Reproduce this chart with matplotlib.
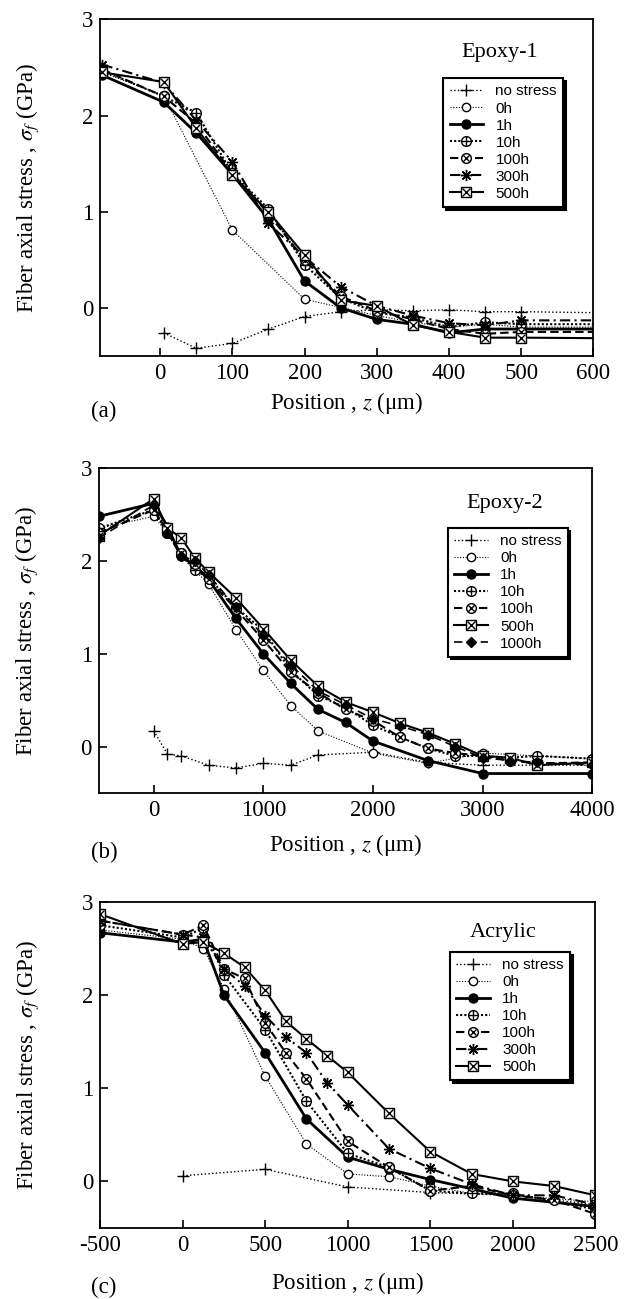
import matplotlib.pyplot as plt
from matplotlib.legend_handler import HandlerTuple

plt.rcParams['font.family'] = ['Liberation Serif', 'DejaVu Serif']
plt.rcParams['mathtext.fontset'] = 'stix'
plt.rcParams['axes.unicode_minus'] = False

# ---- (a) Epoxy-1 ----
a_ns_z = [5, 50, 100, 150, 200, 250, 300, 350, 400, 450, 500, 700]
a_ns = [-0.26, -0.42, -0.37, -0.22, -0.09, -0.04, -0.02, -0.03, -0.02, -0.04, -0.04, -0.06]
a_0h_z = [-80, 5, 100, 200, 300, 350, 400, 450, 500, 700]
a_0h = [2.45, 2.21, 0.81, 0.09, -0.08, -0.15, -0.2, -0.17, -0.2, -0.2]
a_z = [-80, 5, 50, 100, 150, 200, 250, 300, 350, 400, 450, 500, 700]
a_1h = [2.42, 2.14, 1.82, 1.39, 0.92, 0.28, 0.0, -0.12, -0.17, -0.26, -0.22, -0.22, -0.22]
a_10h = [2.47, 2.2, 2.03, 1.4, 1.03, 0.45, 0.1, -0.05, -0.1, -0.2, -0.15, -0.17, -0.17]
a_100h = [2.48, 2.2, 1.92, 1.4, 0.98, 0.5, 0.12, -0.03, -0.12, -0.22, -0.27, -0.25, -0.25]
a_300h = [2.53, 2.34, 1.95, 1.52, 0.88, 0.53, 0.22, 0.02, -0.08, -0.16, -0.18, -0.13, -0.13]
a_500h = [2.45, 2.35, 1.87, 1.38, 1.0, 0.55, 0.08, 0.02, -0.18, -0.25, -0.31, -0.31, -0.32]

# ---- (b) Epoxy-2 ----
b_ns_z = [0, 125, 250, 500, 750, 1000, 1250, 1500, 2000, 2500, 3000, 4000]
b_ns = [0.17, -0.08, -0.1, -0.2, -0.23, -0.18, -0.2, -0.09, -0.06, -0.17, -0.2, -0.2]
b_0h_z = [-500, 0, 125, 250, 375, 500, 750, 1000, 1250, 1500, 2000, 2500, 3000, 3500, 4000]
b_0h = [2.35, 2.48, 2.3, 2.05, 1.9, 1.75, 1.26, 0.82, 0.44, 0.17, -0.07, -0.18, -0.07, -0.1, -0.13]
b_1h_z = [-500, 0, 125, 250, 375, 500, 750, 1000, 1250, 1500, 1750, 2000, 2500, 3000, 4000]
b_1h = [2.48, 2.62, 2.37, 2.05, 1.95, 1.8, 1.38, 1.0, 0.68, 0.4, 0.26, 0.06, -0.15, -0.29, -0.29]
b_z = [-500, 0, 125, 250, 375, 500, 750, 1000, 1250, 1500, 1750, 2000, 2250, 2500, 2750, 3000, 3250, 3500, 4000]
b_10h = [2.35, 2.55, 2.3, 2.08, 1.9, 1.82, 1.5, 1.25, 0.82, 0.55, 0.42, 0.23, 0.1, -0.02, -0.1, -0.1, -0.12, -0.1, -0.13]
b_100h = [2.3, 2.55, 2.3, 2.08, 1.97, 1.8, 1.48, 1.15, 0.8, 0.58, 0.4, 0.28, 0.1, -0.02, -0.07, -0.1, -0.15, -0.18, -0.17]
b_500h = [2.27, 2.67, 2.35, 2.25, 2.03, 1.88, 1.6, 1.27, 0.93, 0.65, 0.48, 0.37, 0.25, 0.15, 0.03, -0.1, -0.12, -0.2, -0.17]
b_1000h = [2.25, 2.6, 2.3, 2.05, 2.0, 1.85, 1.5, 1.2, 0.88, 0.6, 0.45, 0.3, 0.22, 0.13, 0.0, -0.12, -0.15, -0.17, -0.2]

# ---- (c) Acrylic ----
c_ns_z = [0, 500, 1000, 1500, 2000, 2500]
c_ns = [0.06, 0.13, -0.06, -0.12, -0.15, -0.25]
c_0h_z = [-500, 0, 125, 250, 500, 750, 1000, 1250, 1500, 1750, 2000, 2500]
c_0h = [2.7, 2.6, 2.5, 2.07, 1.13, 0.4, 0.08, 0.05, -0.05, -0.13, -0.15, -0.22]
c_1h_z = [-500, 0, 125, 250, 500, 750, 1000, 1250, 1500, 2000, 2500]
c_1h = [2.67, 2.57, 2.6, 2.0, 1.38, 0.67, 0.26, 0.13, 0.02, -0.18, -0.27]
c_10h_z = [-500, 0, 125, 250, 500, 750, 1000, 1250, 1500, 1750, 2000, 2500]
c_10h = [2.75, 2.62, 2.72, 2.22, 1.63, 0.86, 0.3, 0.15, -0.1, -0.13, -0.13, -0.3]
c_100h_z = [-500, 0, 125, 250, 375, 500, 625, 750, 1000, 1250, 1500, 1750, 2000, 2250, 2500]
c_100h = [2.8, 2.65, 2.75, 2.28, 2.18, 1.7, 1.38, 1.1, 0.43, 0.15, -0.1, -0.05, -0.15, -0.2, -0.35]
c_z = [-500, 0, 125, 250, 375, 500, 625, 750, 875, 1000, 1250, 1500, 1750, 2000, 2250, 2500]
c_300h = [2.8, 2.65, 2.62, 2.28, 2.1, 1.78, 1.55, 1.38, 1.06, 0.82, 0.35, 0.14, -0.03, -0.15, -0.15, -0.25]
c_500h = [2.87, 2.55, 2.57, 2.45, 2.3, 2.05, 1.72, 1.53, 1.35, 1.17, 0.73, 0.32, 0.08, 0.0, -0.05, -0.15]

# line style and marker(s) for every series label
styles = {
    'no stress': (':', 1.0, [('+', 'k', 8)]),
    '0h': ((0, (1, 1.5)), 0.8, [('o', 'white', 6)]),
    '1h': ('-', 2.0, [('o', 'k', 6.5)]),
    '10h': ((0, (1, 1)), 1.5, [('o', 'white', 7), ('+', 'k', 7)]),
    '100h': ((0, (4, 2)), 1.5, [('o', 'white', 7), ('x', 'k', 5)]),
    '300h': ((0, (5, 2, 1, 2)), 1.5, [((8, 2, 0), 'k', 8)]),
    '500h': ('-', 1.5, [('s', 'white', 7), ('x', 'k', 6)]),
    '1000h': ((0, (5, 3)), 1.2, [('D', 'k', 5)]),
}


def draw(ax, z, s, label):
    ls, lw, marks = styles[label]
    parts = []
    for i, (m, fc, ms) in enumerate(marks):
        line, = ax.plot(z, s, color='k', ls=ls if i == 0 else 'none',
                        lw=lw, marker=m, ms=ms, mfc=fc, mec='k', mew=1.0)
        parts.append(line)
    return tuple(parts)


panels = [
    ('Epoxy-1', '(a)', (-83, 600), [0, 100, 200, 300, 400, 500, 600],
     [(a_ns_z, a_ns, 'no stress'), (a_0h_z, a_0h, '0h'), (a_z, a_1h, '1h'),
      (a_z, a_10h, '10h'), (a_z, a_100h, '100h'), (a_z, a_300h, '300h'),
      (a_z, a_500h, '500h')],
     [0.159, 0.726, 0.783, 0.259], (0.81, 0.902), (0.696, 0.825), -0.10, 0.683),
    ('Epoxy-2', '(b)', (-500, 4000), [0, 1000, 2000, 3000, 4000],
     [(b_ns_z, b_ns, 'no stress'), (b_0h_z, b_0h, '0h'), (b_1h_z, b_1h, '1h'),
      (b_z, b_10h, '10h'), (b_z, b_100h, '100h'), (b_z, b_500h, '500h'),
      (b_z, b_1000h, '1000h')],
     [0.157, 0.3895, 0.783, 0.2502], (0.823, 0.892), (0.708, 0.815), -0.12, 0.344),
    ('Acrylic', '(c)', (-500, 2500), [-500, 0, 500, 1000, 1500, 2000, 2500],
     [(c_ns_z, c_ns, 'no stress'), (c_0h_z, c_0h, '0h'), (c_1h_z, c_1h, '1h'),
      (c_10h_z, c_10h, '10h'), (c_100h_z, c_100h, '100h'), (c_z, c_300h, '300h'),
      (c_z, c_500h, '500h')],
     [0.159, 0.0547, 0.786, 0.2509], (0.814, 0.908), (0.707, 0.847), -0.128, 0.009),
]

fig = plt.figure(figsize=(6.3, 12.99), dpi=100)
for title, tag, xlim, xticks, series, rect, tpos, lpos, xlab_y, tag_y in panels:
    ax = fig.add_axes(rect)
    handles, labels = [], []
    for z, s, lab in series:
        handles.append(draw(ax, z, s, lab))
        labels.append(lab)
    ax.set_xlim(*xlim)
    ax.set_ylim(-0.5, 3)
    ax.set_xticks(xticks)
    ax.set_yticks([0, 1, 2, 3])
    ax.tick_params(direction='in', length=6, width=1.2, labelsize=16.5,
                   top=False, right=False, pad=5)
    for sp in ax.spines.values():
        sp.set_linewidth(1.3)
    ax.set_ylabel(r'Fiber axial stress , $\sigma_f$ (GPa)', fontsize=16.5)
    ax.yaxis.set_label_coords(-0.12, 0.5)
    ax.set_xlabel(r'Position , $z$ (μm)', fontsize=16.5)
    ax.xaxis.set_label_coords(0.5, xlab_y)
    ax.text(tpos[0], tpos[1], title, transform=ax.transAxes, fontsize=16,
            ha='center', va='center')
    leg = ax.legend(handles, labels, handler_map={tuple: HandlerTuple(ndivide=1)},
                    loc='upper left', bbox_to_anchor=lpos, borderaxespad=0,
                    prop={'family': 'Liberation Sans', 'size': 11},
                    labelspacing=0.2, handlelength=2.2, handletextpad=0.8,
                    fancybox=False, framealpha=1, edgecolor='k',
                    shadow={'color': 'black', 'alpha': 1})
    leg.get_frame().set_linewidth(1.5)
    fig.text(0.165, tag_y, tag, fontsize=16.5, ha='center', va='center')

fig.savefig('out.png', dpi=100)
